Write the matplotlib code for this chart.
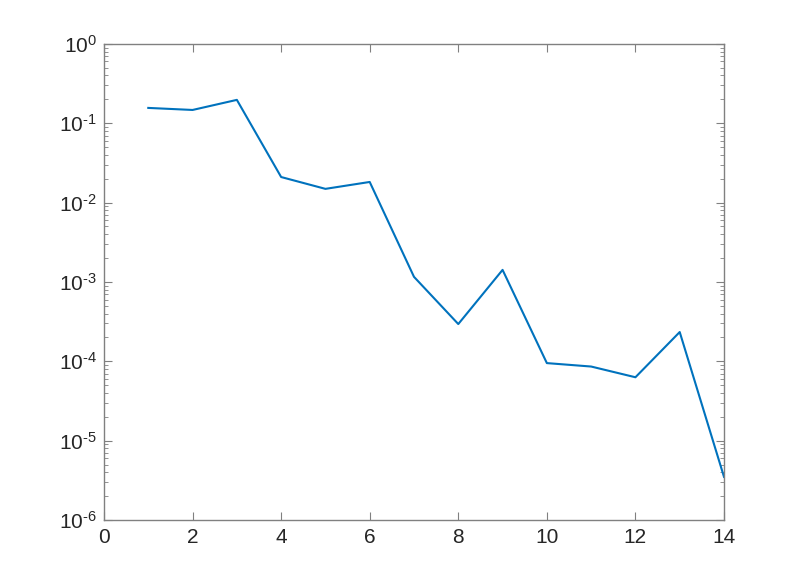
import matplotlib
matplotlib.use("Agg")
import matplotlib.pyplot as plt
import numpy as np
from matplotlib.ticker import LogLocator, NullFormatter, FuncFormatter, FixedLocator

plt.rcParams['font.family'] = ['Liberation Sans', 'DejaVu Sans']
plt.rcParams['mathtext.fontset'] = 'custom'
plt.rcParams['mathtext.rm'] = 'Liberation Sans'
plt.rcParams['mathtext.it'] = 'Liberation Sans'
plt.rcParams['axes.unicode_minus'] = False

x = [1, 2, 3, 4, 5, 6, 7, 8, 9, 10, 11, 12, 13, 14]
y = [0.156, 0.147, 0.197, 0.021, 0.0149, 0.0182, 0.00116, 0.000295,
     0.00142, 9.5e-5, 8.6e-5, 6.3e-5, 2.34e-4, 3.5e-6]
xticks = [0, 2, 4, 6, 8, 10, 12, 14]
yticks = [1e-6, 1e-5, 1e-4, 1e-3, 1e-2, 1e-1, 1e0]


def fmt(v, pos):
    e = int(round(np.log10(v)))
    if e < 0:
        return r'$\mathregular{10^{\text{-}%d}}$' % (-e)
    return r'$\mathregular{10^{%d}}$' % e


fig = plt.figure(figsize=(8, 5.85), dpi=100)
ax = fig.add_axes([0.13, 0.111, 0.775, 0.814])
ax.plot(x, y, color='#0072BD', linewidth=1.5)
ax.set_yscale('log')
ax.set_xlim(0, 14)
ax.set_ylim(1e-6, 1)
ax.set_xticks(xticks)
ax.yaxis.set_major_locator(FixedLocator(yticks))
ax.yaxis.set_major_formatter(FuncFormatter(fmt))
ax.yaxis.set_minor_locator(LogLocator(base=10, subs=range(2, 10), numticks=100))
ax.yaxis.set_minor_formatter(NullFormatter())
gray = '#808080'
for s in ax.spines.values():
    s.set_color(gray)
    s.set_linewidth(1.0)
ax.tick_params(which='both', direction='in', top=True, right=True, colors=gray,
               labelcolor='#262626', labelsize=15)
ax.tick_params(axis='x', pad=6)
ax.tick_params(axis='y', pad=5)
ax.tick_params(which='major', length=6)
ax.tick_params(which='minor', length=3)
fig.savefig('out.png', dpi=100)
